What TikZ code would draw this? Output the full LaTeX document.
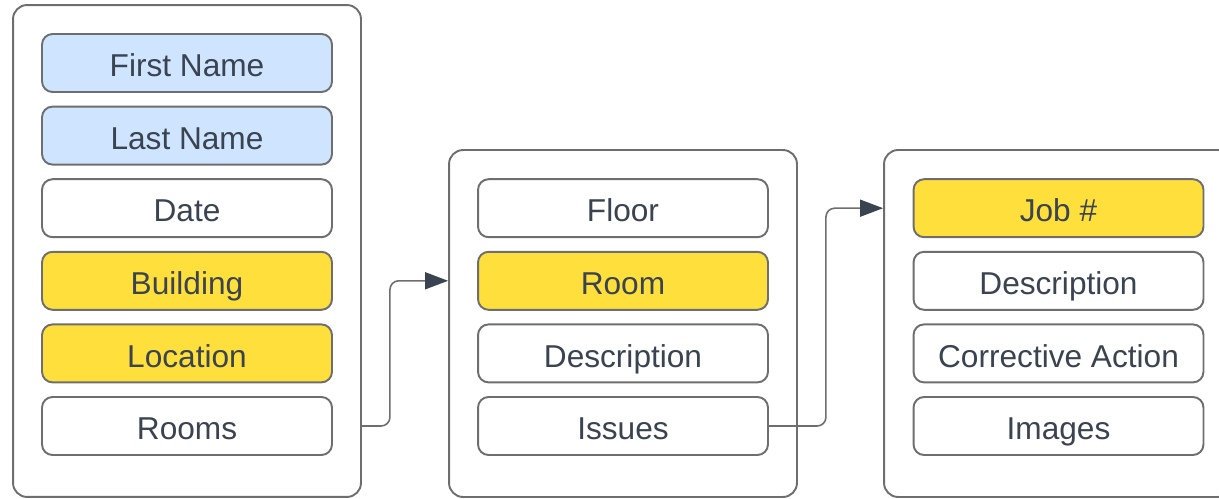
\documentclass[tikz,border=0pt]{standalone}
\usepackage{fontspec}
\setmainfont{Liberation Sans}
\usetikzlibrary{arrows.meta,positioning}
\definecolor{fieldblue}{HTML}{CFE4FF}
\definecolor{fieldyellow}{HTML}{FFDF3C}
\definecolor{edgegray}{HTML}{6E6E6E}
\definecolor{inkdark}{HTML}{3A4350}

\begin{document}
\begin{tikzpicture}[x=0.02cm,y=-0.02cm,font=\fontsize{18}{22}\selectfont,
  panel/.style={draw=edgegray,line width=1.1pt,rounded corners=8pt,minimum width=6.96cm},
  field/.style={draw=edgegray,line width=1.1pt,rounded corners=6pt,fill=white,text=inkdark,
    minimum width=5.8cm,minimum height=1.16cm,inner sep=0pt,text height=15.5pt,text depth=0pt},
  link/.style={draw=edgegray,line width=0.9pt,rounded corners=5pt,
    -{Triangle[length=0.46cm,width=0.34cm,color=inkdark,fill=inkdark]}}]
  \useasboundingbox (0,0) rectangle (1219,499);
  \clip (0,0) rectangle (1219,499);

  % containers
  \node[panel,minimum height=9.84cm] (cont1) at (187,251) {};
  \node[panel,minimum height=6.94cm] (cont2) at (623,323.5) {};
  \node[panel,minimum height=6.94cm] (cont3) at (1058,323.5) {};

  % first table
  \foreach \i/\lab/\col in {0/First Name/fieldblue,1/Last Name/fieldblue,2/Date/white,
      3/Building/fieldyellow,4/Location/fieldyellow,5/Rooms/white}{
    \node[field,fill=\col] (r1-\i) at (187,63+72.6*\i) {\lab};
  }

  % second table
  \foreach \i/\lab/\col in {0/Floor/white,1/Room/fieldyellow,2/Description/white,3/Issues/white}{
    \node[field,fill=\col] (r2-\i) at (623,208.2+72.6*\i) {\lab};
  }

  % third table
  \foreach \i/\lab/\col in {0/Job \#/fieldyellow,1/Description/white,2/Corrective Action/white,3/Images/white}{
    \node[field,fill=\col] (r3-\i) at (1058.5,208.2+72.6*\i) {\lab};
  }

  \draw[link] (cont1.east |- r1-5.east) -- ++(28,0) |- (cont2.west |- r2-1.center);
  \draw[link] (r2-3.east) -- ++(57,0) |- (cont3.west |- r3-0.center);
\end{tikzpicture}
\end{document}
